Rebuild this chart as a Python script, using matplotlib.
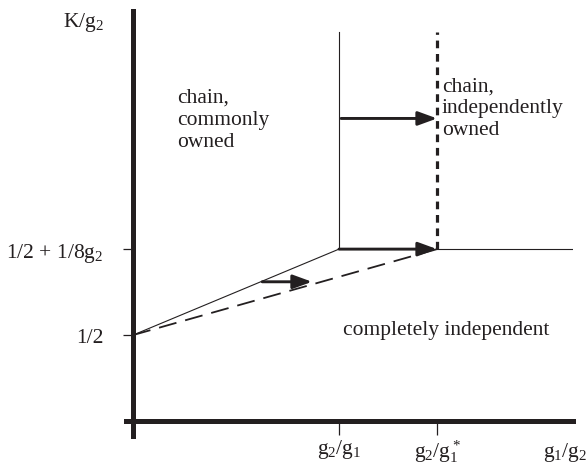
import numpy as np
import matplotlib
matplotlib.use('Agg')
import matplotlib.pyplot as plt

plt.rcParams['font.family'] = 'Liberation Serif'
plt.rcParams['mathtext.fontset'] = 'custom'
plt.rcParams['mathtext.rm'] = 'Liberation Serif'
plt.rcParams['mathtext.it'] = 'Liberation Serif'

# axis positions (schematic units)
x_ticks = [1.0, 1.476]
x_ticklabels = [r'g$_2$/g$_1$', r'g$_2$/g$_1^*$']
y_ticks = [1.0, 2.0]
y_ticklabels = ['1/2', r'1/2 + 1/8g$_2$']
x_end = 2.136
y_top = 4.52

# boundaries
common_x = [0.0, 1.0]
common_y = [1.0, 2.0]
indep_x = [0.0, 1.476]
indep_y = [1.0, 2.0]

fs = 15.5
k = '#231f20'

fig = plt.figure(figsize=(5.87, 4.64), dpi=100)
ax = fig.add_axes([126/587, 27/464, 447/587, 425/464])
ax.set_xlim(-0.034, x_end)
ax.set_ylim(-0.174, 4.77)

for s in ['top', 'right']:
    ax.spines[s].set_visible(False)
for s in ['left', 'bottom']:
    ax.spines[s].set_position(('data', 0))
    ax.spines[s].set_linewidth(3.6)
    ax.spines[s].set_color(k)

ax.set_xticks(x_ticks)
ax.set_xticklabels(x_ticklabels, fontsize=fs)
ax.set_yticks(y_ticks)
ax.set_yticklabels(y_ticklabels, fontsize=fs)
ax.tick_params(axis='x', direction='out', length=10, width=0.9, pad=1.5, color=k, labelcolor=k)
ax.tick_params(axis='y', direction='out', length=7.5, width=0.9, pad=14, color=k, labelcolor=k)

# solid boundaries
ax.plot(common_x, common_y, color=k, lw=0.8)
ax.plot([1.0, 1.0], [2.0, y_top], color=k, lw=0.8)
ax.plot([1.476, x_end], [2.0, 2.0], color=k, lw=0.8)
# dashed boundaries
ax.plot(indep_x, indep_y, color=k, lw=1.3, dashes=(10, 5))
ax.plot([1.476, 1.476], [2.0, y_top], color=k, lw=2.3, dashes=(2.4, 1.8))

# arrows
arr = dict(arrowstyle='-|>,head_length=1.15,head_width=0.42', color=k, lw=2.1,
           shrinkA=0, shrinkB=0)
ax.annotate('', xy=(1.476, 2.0), xytext=(1.0, 2.0), arrowprops=arr)
ax.annotate('', xy=(1.476, 3.52), xytext=(1.01, 3.52), arrowprops=arr)
ax.annotate('', xy=(0.869, 1.62), xytext=(0.627, 1.62), arrowprops=arr)

ax.text(0.214, 3.198, 'chain,\ncommonly\nowned', fontsize=fs, va='baseline', ha='left',
        linespacing=1.25, color=k)
ax.text(1.5, 3.34, 'chain,\nindependently\nowned', fontsize=fs, va='baseline', ha='left',
        linespacing=1.18, color=k)
ax.text(1.019, 1.012, 'completely independent', fontsize=fs, va='baseline', ha='left', color=k)
ax.text(2.097, -0.41, r'g$_1$/g$_2$', fontsize=fs, ha='center', va='baseline',
        clip_on=False, color=k)
ax.text(-0.238, 4.593, r'K/g$_2$', fontsize=fs, ha='center', va='baseline',
        clip_on=False, color=k)

fig.savefig('out.png', dpi=100)
